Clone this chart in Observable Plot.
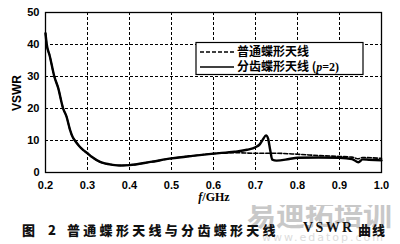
<!DOCTYPE html>
<html><head><meta charset="utf-8">
<script src="https://cdn.jsdelivr.net/npm/d3@7"></script>
<script src="https://cdn.jsdelivr.net/npm/@observablehq/plot@0.6"></script>
<style>
body{margin:0;background:#fff;width:400px;height:244px;position:relative;overflow:hidden;}
#chart{position:absolute;left:0;top:0;}
#wm{position:absolute;left:247px;top:192px;font-family:"Noto Sans CJK SC";font-weight:bold;font-size:29px;color:#c8c8c8;white-space:nowrap;}
#wm2{position:absolute;left:262px;top:231px;font-family:"DejaVu Sans";font-size:11px;color:#dcdcdc;letter-spacing:2px;}
#cap{position:absolute;left:22px;top:220px;font-family:"Noto Sans CJK SC";font-weight:900;font-size:13px;white-space:nowrap;color:#111;}
</style></head>
<body>
<div id="wm">易迪拓培训</div>
<div id="wm2">www.edatop.com</div>
<div id="chart"></div>
<div id="cap"><span style="letter-spacing:5px">图 2</span><span style="position:absolute;left:45px;letter-spacing:3.3px">普通蝶形天线与分齿蝶形天线</span><span style="position:absolute;left:281px;top:0px;font-family:'Liberation Serif';font-weight:bold;font-size:14px;letter-spacing:2.4px">VSWR</span><span style="position:absolute;left:336px;letter-spacing:1px">曲线</span></div>
<script>
const freqSolid = [0.200,0.203,0.210,0.221,0.230,0.242,0.250,0.258,0.265,0.270,0.280,0.290,0.300,0.310,0.330,0.360,0.380,0.400,0.450,0.500,0.550,0.600,0.650,0.680,0.700,0.710,0.718,0.725,0.730,0.735,0.740,0.750,0.780,0.800,0.850,0.900,0.930,0.945,0.955,0.970,1.000];
const vswrSolid = [43.5,40,36.5,30,26.5,20,17.5,13.5,11,10,8.3,7,6,4.9,3.3,2.4,2.2,2.3,3.3,4.4,5.2,5.9,6.5,7.1,7.9,8.8,10.4,11.6,10.6,7,4,3.7,4.2,4.6,4.7,4.6,4.2,3.2,4.1,4.0,3.8];
const freqDashed = [0.200,0.203,0.210,0.221,0.230,0.242,0.250,0.258,0.265,0.270,0.280,0.290,0.300,0.310,0.330,0.360,0.380,0.400,0.450,0.500,0.550,0.600,0.650,0.700,0.750,0.800,0.850,0.900,0.930,0.945,0.955,1.000];
const vswrDashed = [43.5,40,36.5,30,26.5,20,17.5,13.5,11,10,8.3,7,6,4.9,3.3,2.4,2.2,2.3,3.3,4.4,5.2,5.9,6.2,6.0,6.0,5.7,5.3,5.0,4.8,4.3,4.7,4.4];
const xTicks = [0.2,0.3,0.4,0.5,0.6,0.7,0.8,0.9,1.0];
const yTicks = [0,10,20,30,40,50];
const legendLabels = ["普通蝶形天线","分齿蝶形天线"];

const solid = freqSolid.map((f,i)=>({f, v:vswrSolid[i]}));
const dashed = freqDashed.map((f,i)=>({f, v:vswrDashed[i]}));

const plot = Plot.plot({
  width:400, height:205,
  marginTop:12, marginLeft:45, marginRight:19, marginBottom:33,
  style:{fontFamily:"'Liberation Sans', Arial, sans-serif", fontSize:"11px", fontWeight:"bold", background:"white"},
  x:{domain:[0.2,1.0], label:null},
  y:{domain:[0,50], label:null},
  marks:[
    Plot.ruleX(xTicks.slice(1,-1), {stroke:"black", strokeOpacity:1, strokeWidth:1, strokeDasharray:"3,2"}),
    Plot.ruleY(yTicks.slice(1,-1), {stroke:"black", strokeOpacity:1, strokeWidth:1, strokeDasharray:"3,2"}),
    Plot.line(dashed, {x:"f", y:"v", stroke:"black", strokeWidth:1.6, strokeDasharray:"4,2", curve:"monotone-x"}),
    Plot.line(solid, {x:"f", y:"v", stroke:"black", strokeWidth:2.4, curve:"monotone-x"}),
    Plot.frame({stroke:"black", strokeWidth:1.3}),
    Plot.axisX(xTicks, {tickSize:0, tickPadding:9, tickFormat:d=>d.toFixed(1), label:null}),
    Plot.axisY(yTicks, {tickSize:0, tickPadding:6, label:null})
  ]
});
document.getElementById("chart").appendChild(plot);

const svg = d3.select(plot);
// axis labels
const xl = svg.append("text").attr("x",214).attr("y",201).attr("text-anchor","middle")
  .style("font-family","'Liberation Serif', serif").style("font-size","12px").style("font-weight","bold");
xl.append("tspan").style("font-style","italic").text("f");
xl.append("tspan").text("/GHz");
svg.append("text").attr("transform","translate(21,93) rotate(-90)").attr("text-anchor","middle")
  .style("font-family","'Liberation Sans', Arial, sans-serif").style("font-size","12px").style("font-weight","bold").text("VSWR");

// legend
const lg = svg.append("g").attr("text-anchor","start");
lg.append("rect").attr("x",196).attr("y",42.5).attr("width",167).attr("height",32).attr("fill","white").attr("stroke","black").attr("stroke-width",1.2);
lg.append("line").attr("x1",200).attr("x2",234).attr("y1",52).attr("y2",52).attr("stroke","black").attr("stroke-width",1.6).attr("stroke-dasharray","4,2");
lg.append("line").attr("x1",200).attr("x2",234).attr("y1",67).attr("y2",67).attr("stroke","black").attr("stroke-width",1.6);
lg.append("text").attr("x",237).attr("y",52).attr("dy","0.35em").attr("text-anchor","start").style("font-family","'Noto Sans CJK SC'").style("font-size","12px").style("font-weight","bold").text(legendLabels[0]);
const t2 = lg.append("text").attr("x",237).attr("y",67).attr("dy","0.35em").attr("text-anchor","start").style("font-family","'Noto Sans CJK SC'").style("font-size","12px").style("font-weight","bold");
t2.append("tspan").text(legendLabels[1]+" (");
t2.append("tspan").style("font-style","italic").style("font-family","'Liberation Serif'").text("p");
t2.append("tspan").style("font-family","'Liberation Serif'").text("=2)");
</script>
</body></html>
